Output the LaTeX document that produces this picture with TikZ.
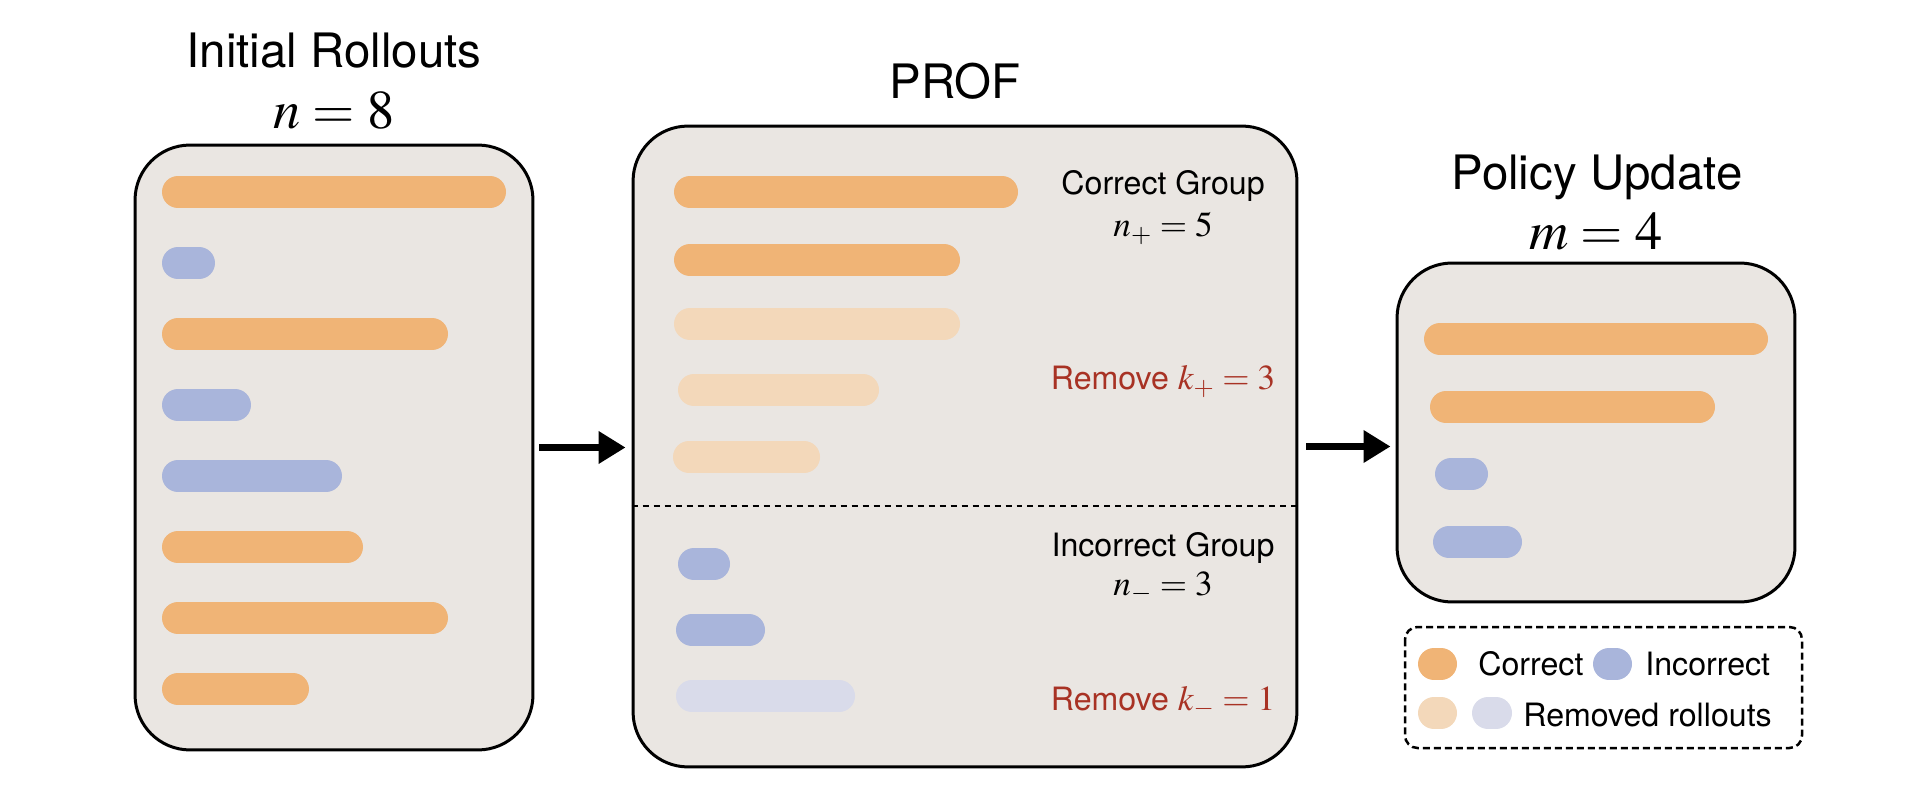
\documentclass[tikz,border=0pt]{standalone}
\usepackage{mathptmx}
\usepackage[no-math]{fontspec}
\setmainfont{TeX Gyre Heros}
\usetikzlibrary{arrows.meta}
\definecolor{corr}{HTML}{F0B476}
\definecolor{inc}{HTML}{A9B5DB}
\definecolor{corrx}{HTML}{F3D8BA}
\definecolor{incx}{HTML}{D9DBEA}
\definecolor{panelbg}{HTML}{EAE6E2}
\definecolor{remred}{HTML}{A83224}
\newcommand{\tmath}[1]{{\fontsize{31}{36}\selectfont$#1$}}
\newcommand{\nmath}[1]{{\fontsize{20}{24}\selectfont$#1$}}

\begin{document}
\begin{tikzpicture}
  [x=0.02cm,y=-0.02cm,
   panel/.style={draw=black,line width=0.06cm,fill=panelbg,rounded corners=1.1cm,inner sep=0pt},
   roll/.style={line width=0.64cm,line cap=round,draw=#1},
   title/.style={font=\fontsize{27}{32}\selectfont,anchor=base,inner sep=0pt},
   note/.style={font=\fontsize{18.3}{22}\selectfont,anchor=base,inner sep=0pt},
   remove/.style={note,text=remred},
   flow/.style={line width=0.16cm,-{Triangle[length=0.54cm,width=0.62cm]}},
   divide/.style={line width=0.05cm,dash pattern=on 0.12cm off 0.1cm},
   legendbox/.style={line width=0.05cm,dash pattern=on 0.14cm off 0.08cm,rounded corners=0.25cm}]
  \useasboundingbox (0,0) rectangle (1914,807);

  % panels
  \node[panel,minimum width=7.96cm,minimum height=12.1cm] (init) at (334,447.5) {};
  \node[panel,minimum width=13.28cm,minimum height=12.82cm] (prof) at (965,446.5) {};
  \node[panel,minimum width=7.96cm,minimum height=6.78cm] (pol) at (1596,432.5) {};

  \node[title] (t-init) at (334,68) {Initial Rollouts};
  \node[title] (n-init) at (334,129) {\tmath{n=8}};
  \node[title] (t-prof) at (955,99) {PROF};
  \node[title] (t-pol) at (1597,190) {Policy Update};
  \node[title] (m-pol) at (1596,250) {\tmath{m=4}};

  % rollouts
  \foreach \y/\b/\c in {192/506/corr,263/215/inc,334/448/corr,405/251/inc,
                        476/342/inc,547/363/corr,618/448/corr,689/309/corr}
    \draw[roll=\c] (178,\y) -- (\b-16,\y);

  \foreach \y/\a/\b/\c in {192/674/1018/corr,260/674/960/corr,324/674/960/corrx,
                           390/678/879/corrx,457/673/820/corrx,564/678/730/inc,
                           630/676/765/inc,696/676/855/incx}
    \draw[roll=\c] (\a+16,\y) -- (\b-16,\y);

  \foreach \y/\a/\b/\c in {339/1424/1768/corr,407/1430/1715/corr,
                           474/1435/1488/inc,542/1433/1522/inc}
    \draw[roll=\c] (\a+16,\y) -- (\b-16,\y);

  \draw[divide] (prof.west |- 0,506) -- (prof.east |- 0,506);

  \node[note] (g-corr) at (1163,195) {Correct Group};
  \node[note] (n-corr) at (1163,237) {\nmath{n_+=5}};
  \node[remove] (k-corr) at (1163,390) {Remove \nmath{k_+=3}};
  \node[note] (g-inc) at (1163,556) {Incorrect Group};
  \node[note] (n-inc) at (1163,595) {\nmath{n_-=3}};
  \node[remove] (k-inc) at (1163,710) {Remove \nmath{k_-=1}};

  \draw[flow,shorten <=0.1cm,shorten >=0.12cm] (init.east) -- (init.east -| prof.west);
  \draw[flow,shorten <=0.16cm,shorten >=0.1cm] (prof.east) -- (prof.east -| pol.west);

  % legend
  \draw[legendbox] (1405,627) rectangle (1802,748);
  \draw[roll=corr] (1434,664) -- (1441,664);
  \draw[roll=inc] (1609,664) -- (1616,664);
  \draw[roll=corrx] (1434,713) -- (1441,713);
  \draw[roll=incx] (1488,713) -- (1496,713);
  \node[note,anchor=base west] (l-corr) at (1478,675) {Correct};
  \node[note,anchor=base west] (l-inc) at (1645,675) {Incorrect};
  \node[note,anchor=base west] (l-rem) at (1523,726) {Removed rollouts};
\end{tikzpicture}
\end{document}
